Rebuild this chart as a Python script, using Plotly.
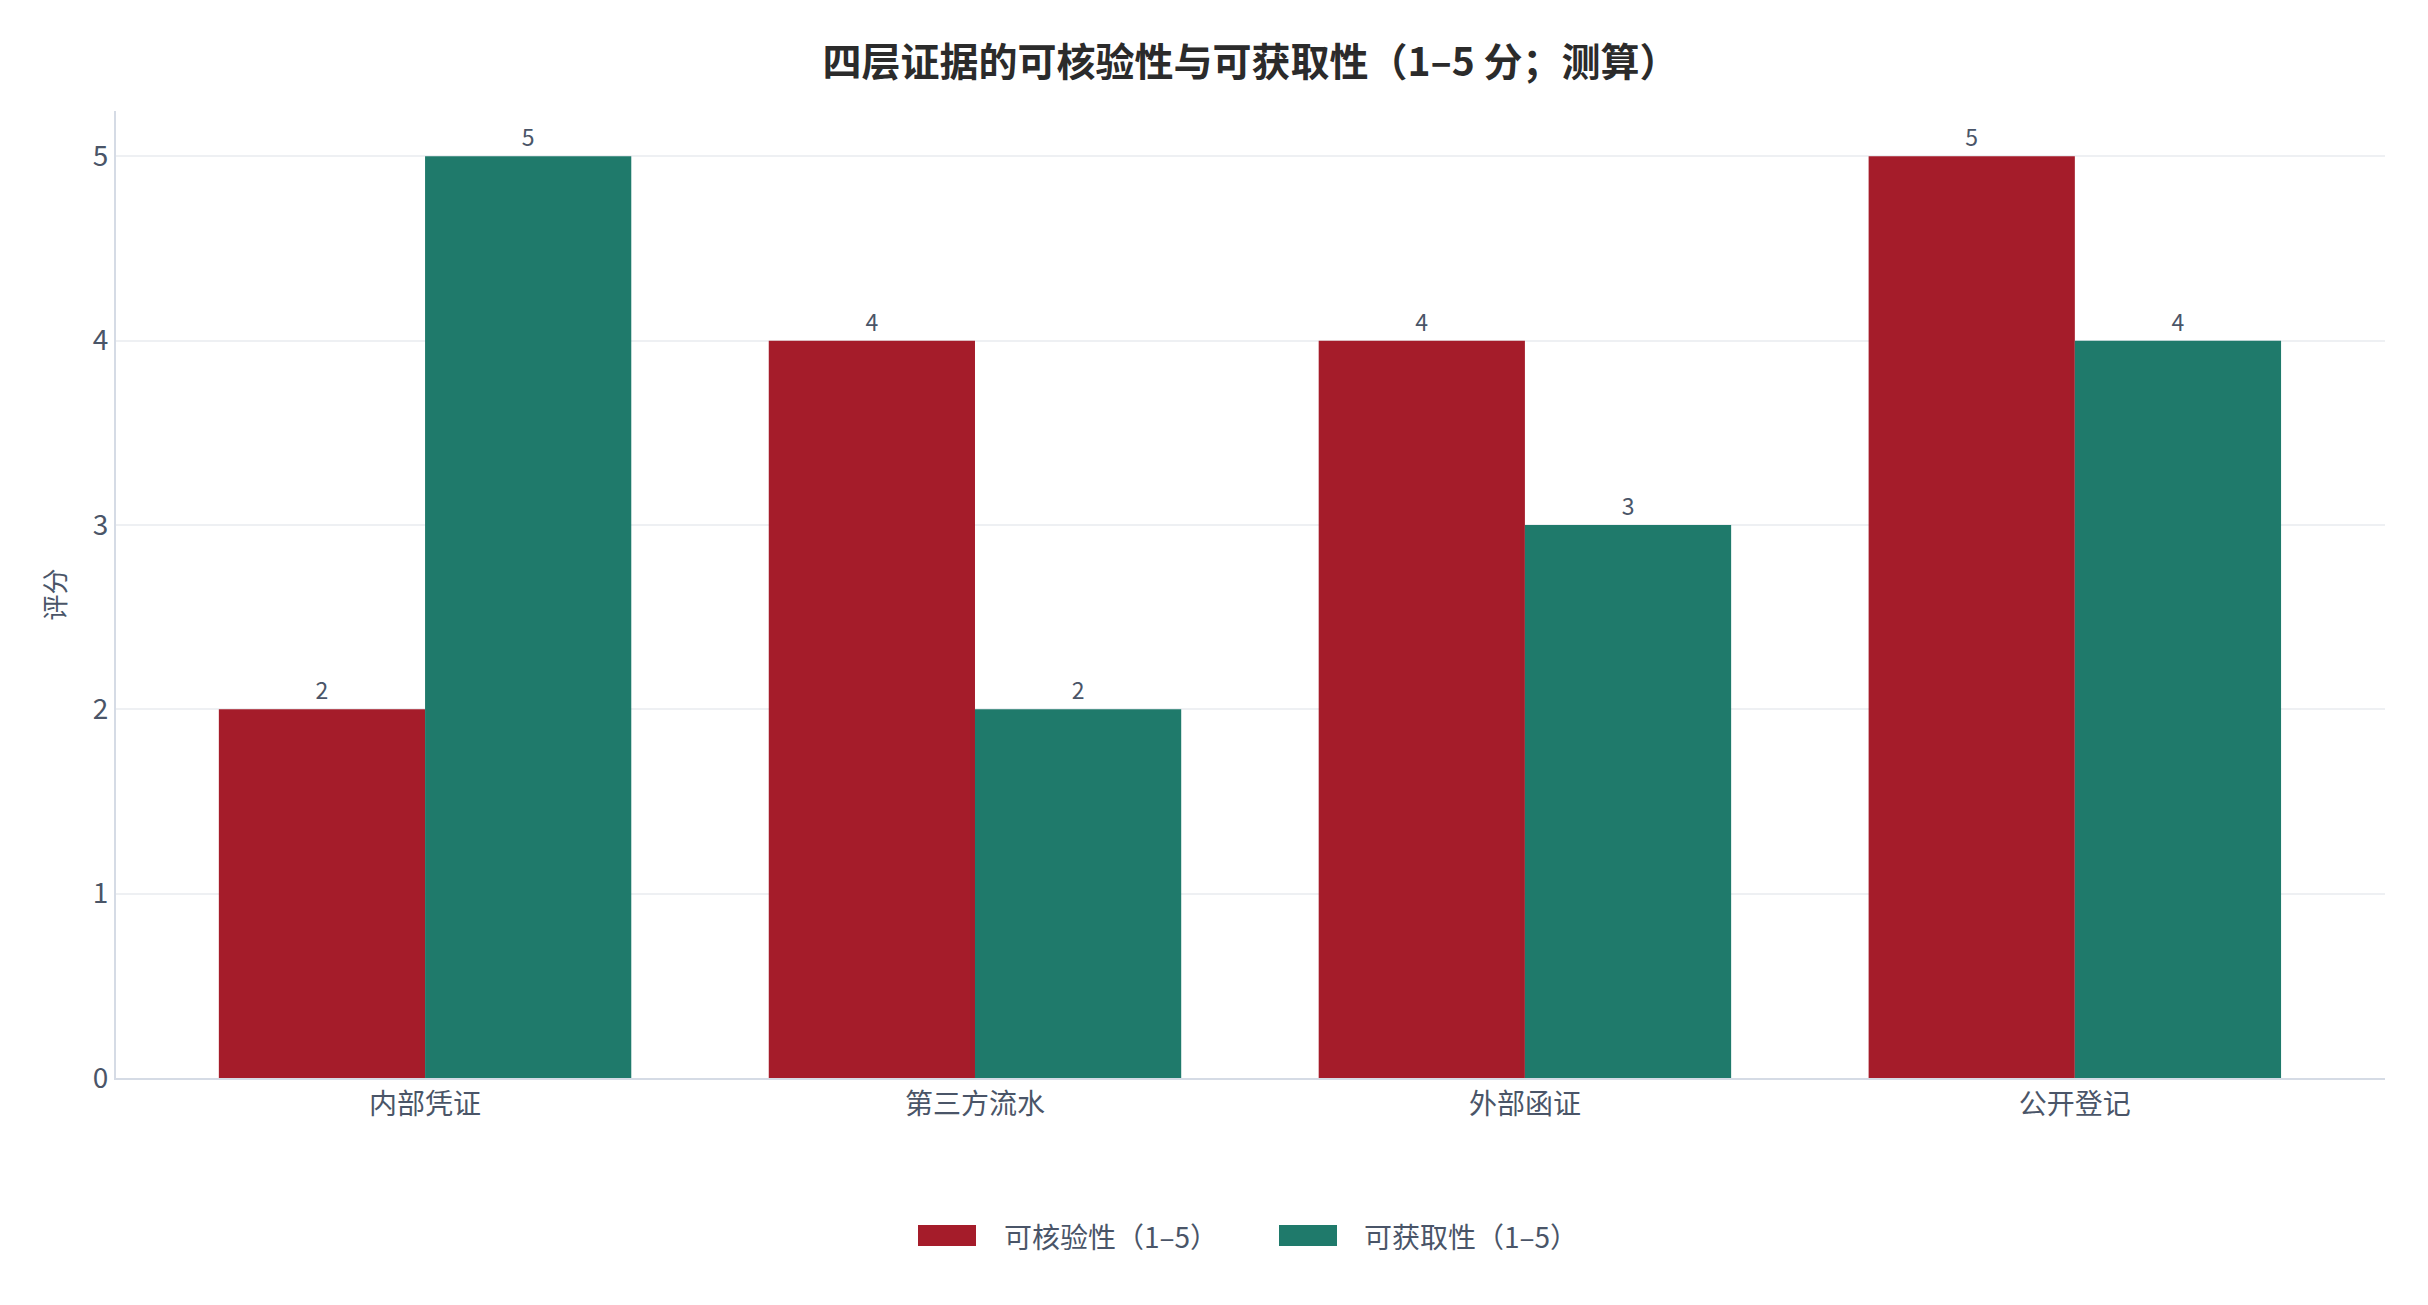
import plotly.graph_objects as go

categories = ["内部凭证", "第三方流水", "外部函证", "公开登记"]
verifiability = [2, 4, 4, 5]
obtainability = [5, 2, 3, 4]
series_names = ["可核验性（1–5）", "可获取性（1–5）"]
title_text = "四层证据的可核验性与可获取性（1–5 分；测算）"
y_title = "评分"

FONT = "Noto Sans CJK SC, Noto Sans, sans-serif"
TXT = "#4A5568"
RED = "#A51C2A"
GREEN = "#1F7A6B"
colors = [RED, GREEN]

fig = go.Figure()
for name, vals, col in zip(series_names, [verifiability, obtainability], colors):
    fig.add_trace(go.Bar(
        x=categories, y=vals, name=name, marker=dict(color=col, line=dict(width=0)),
        text=[str(v) for v in vals], textposition="outside", cliponaxis=False,
        textfont=dict(size=23, color=TXT, family=FONT), showlegend=False,
    ))

# manual legend (wide swatches as in reference)
PLOT_L, PLOT_W, PLOT_B, PLOT_H = 116, 2269, 1078, 967
def px(x):
    return (x - PLOT_L) / PLOT_W
def py(y):
    return (PLOT_B - y) / PLOT_H

legend_items = [(918, 1002), (1279, 1362)]
shapes, annots = [], []
for (sx, tx), name, col in zip(legend_items, series_names, colors):
    shapes.append(dict(type="rect", xref="paper", yref="paper",
                       x0=px(sx), x1=px(sx + 58), y0=py(1246), y1=py(1225),
                       fillcolor=col, line=dict(width=0)))
    annots.append(dict(text=name, xref="paper", yref="paper", x=px(tx), y=py(1236),
                       xanchor="left", yanchor="middle", showarrow=False,
                       font=dict(size=28, color=TXT, family=FONT)))

fig.update_layout(
    width=2428, height=1305,
    paper_bgcolor="white", plot_bgcolor="white",
    margin=dict(l=116, r=43, t=111, b=227),
    barmode="group", bargap=0.25, bargroupgap=0,
    font=dict(family=FONT, size=28, color=TXT),
    title=dict(text="<b>" + title_text + "</b>", x=0.5, xref="paper", xanchor="center",
               y=1 - 62 / 1305, yref="container", yanchor="middle",
               font=dict(size=39, color="#2B2B2B", family=FONT)),
    showlegend=False,
    shapes=shapes, annotations=annots,
    xaxis=dict(range=[-0.562, 3.564], showline=True, linecolor="#D5DBE5", linewidth=2,
               ticks="", tickfont=dict(size=28, color=TXT), showgrid=False),
    yaxis=dict(range=[0, 5.246], showline=True, linecolor="#D5DBE5", linewidth=2,
               gridcolor="#EEF0F3", gridwidth=1.5, zeroline=False, dtick=1,
               tickfont=dict(size=28, color=TXT), ticks="", ticklen=0,
               title=dict(text=y_title, font=dict(size=26, color=TXT), standoff=20)),
)

fig.write_html("out.html")
